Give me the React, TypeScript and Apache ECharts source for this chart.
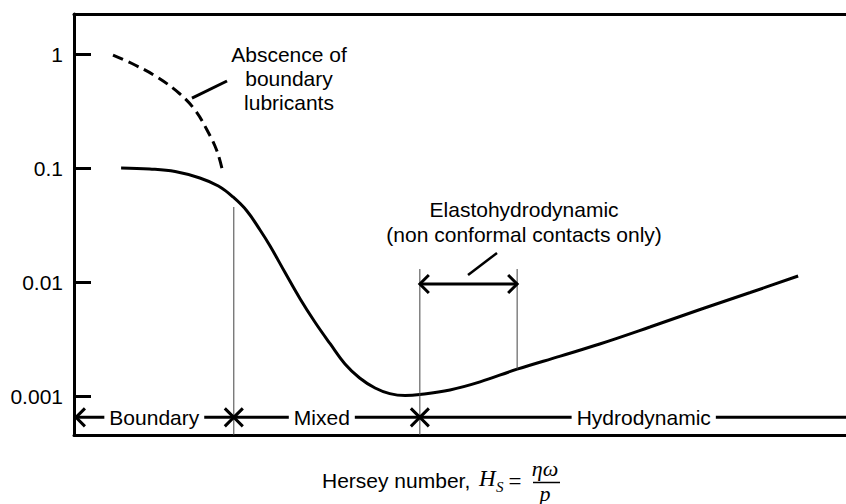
import React, { useEffect, useRef } from "react";
import * as echarts from "echarts";

// ---- axes ----
const yTickValues = [0.001, 0.01, 0.1, 1];
const yTickLabels = ["0.001", "0.01", "0.1", "1"];
const yMin = 0.000455;
const yMax = 2.244;
const xMin = 0;
const xMax = 100;

// ---- Stribeck curve (coefficient of friction vs Hersey number) ----
const frictionX = [6.1, 9.8, 13.1, 16.3, 18.7, 20.6, 22.4, 24.1, 25.4, 27.3, 29.3, 31.2, 33.2, 35.1, 37.0, 39.0, 40.9, 42.9, 44.8, 48.7, 52.6, 57.4, 63.0, 68.1, 74.6, 81.1, 87.6, 93.8];
const frictionY = [0.1, 0.098, 0.0932, 0.0817, 0.0695, 0.0557, 0.042, 0.0286, 0.0207, 0.01224, 0.0071, 0.00446, 0.00286, 0.00191, 0.00144, 0.001176, 0.00105, 0.00101, 0.00103, 0.00113, 0.00133, 0.00172, 0.00224, 0.00286, 0.00403, 0.00574, 0.00809, 0.01129];

// ---- absence of boundary lubricants (dashed) ----
const dryX = [5.05, 7.9, 10.75, 13.73, 15.67, 17.23, 18.52, 19.3];
const dryY = [0.98, 0.801, 0.628, 0.446, 0.323, 0.2154, 0.141, 0.0904];

// ---- regimes ----
const regimeLabels = ["Boundary", "Mixed", "Hydrodynamic"];
const regimeLabelX = [10.4, 32.1, 73.8];
const regimeBounds = [20.7, 44.8];
const bracketStartX = 0.25;
const bracketEndX = 100;
const bracketY = 0.00065;

// ---- guide lines ----
const guideX = [20.7, 44.8, 57.4];
const guideTop = [0.0455, 0.013, 0.013];
const guideBottom = [yMin, yMin, 0.00172];

// ---- EHD range ----
const ehdRange = [44.8, 57.4];
const ehdY = 0.0096;
const ehdLabel = "Elastohydrodynamic\n(non conformal contacts only)";
const ehdLabelPos = [58.3, 0.0339];
const ehdLeader = [[51.04, 0.01151], [54.79, 0.01797]];

const dryLabel = "Abscence of\nboundary\nlubricants";
const dryLabelPos = [27.85, 0.612];
const dryLeader = [[15.28, 0.411], [19.82, 0.58]];

const SANS = "'Liberation Sans', Arial, sans-serif";
const SERIF = "'Liberation Serif', 'Times New Roman', serif";

function txt(o: any) {
  return { ...o, textAlign: o.align, textVerticalAlign: o.verticalAlign };
}

export default function App() {
  const ref = useRef<HTMLDivElement>(null);
  useEffect(() => {
    const chart = echarts.init(ref.current!, null, { renderer: "svg" });

    const renderItem = (params: any, api: any) => {
      const P = (x: number, y: number) => api.coord([x, y]);
      const ch: any[] = [];
      const seg = (a: number[], b: number[], w: number, color = "#000") =>
        ch.push({
          type: "line",
          shape: { x1: a[0], y1: a[1], x2: b[0], y2: b[1] },
          style: { stroke: color, lineWidth: w },
        });
      const head = (tip: number[], dir: number) =>
        ch.push({
          type: "polyline",
          shape: {
            points: [
              [tip[0] - dir * 9, tip[1] - 9],
              [tip[0], tip[1]],
              [tip[0] - dir * 9, tip[1] + 9],
            ],
          },
          style: { stroke: "#000", fill: "none", lineWidth: 3, lineJoin: "miter" },
        });

      // guide lines
      guideX.forEach((gx, i) => seg(P(gx, guideTop[i]), P(gx, guideBottom[i]), 1, "#444"));

      // bottom regime bracket
      seg(P(bracketStartX, bracketY), P(bracketEndX, bracketY), 3);
      head(P(bracketStartX, bracketY), -1);
      regimeBounds.forEach((b) => {
        head(P(b, bracketY), 1);
        head(P(b, bracketY), -1);
      });
      regimeLabels.forEach((t, i) => {
        const p = P(regimeLabelX[i], bracketY);
        ch.push({
          type: "text",
          x: p[0],
          y: p[1],
          style: txt({
            text: t,
            align: "center",
            verticalAlign: "middle",
            fontSize: 21,
            fontFamily: SANS,
            fill: "#000",
            backgroundColor: "#fff",
            padding: [0, 5],
          }),
        });
      });

      // EHD double arrow
      seg(P(ehdRange[0], ehdY), P(ehdRange[1], ehdY), 3);
      head(P(ehdRange[0], ehdY), -1);
      head(P(ehdRange[1], ehdY), 1);
      seg(P(ehdLeader[0][0], ehdLeader[0][1]), P(ehdLeader[1][0], ehdLeader[1][1]), 2.5);
      const ep = P(ehdLabelPos[0], ehdLabelPos[1]);
      ch.push({
        type: "text",
        x: ep[0],
        y: ep[1],
        style: txt({
          text: ehdLabel,
          align: "center",
          verticalAlign: "middle",
          fontSize: 21,
          fontFamily: SANS,
          fill: "#000",
          lineHeight: 25,
        }),
      });

      // dry annotation
      seg(P(dryLeader[0][0], dryLeader[0][1]), P(dryLeader[1][0], dryLeader[1][1]), 3);
      const dp = P(dryLabelPos[0], dryLabelPos[1]);
      ch.push({
        type: "text",
        x: dp[0],
        y: dp[1],
        style: txt({
          text: dryLabel,
          align: "center",
          verticalAlign: "middle",
          fontSize: 21,
          fontFamily: SANS,
          fill: "#000",
          lineHeight: 24,
        }),
      });

      return { type: "group", children: ch };
    };

    const axisTitle = [
      { type: "text", x: 322, y: 480, style: txt({ text: "Hersey number,", align: "left", verticalAlign: "middle", fontSize: 21, fontFamily: SANS, fill: "#000" }) },
      { type: "text", x: 479, y: 478, style: txt({ text: "H", align: "left", verticalAlign: "middle", fontSize: 23, fontStyle: "italic", fontFamily: SERIF, fill: "#000" }) },
      { type: "text", x: 496, y: 487, style: txt({ text: "S", align: "left", verticalAlign: "middle", fontSize: 15, fontStyle: "italic", fontFamily: SERIF, fill: "#000" }) },
      { type: "text", x: 515, y: 481, style: txt({ text: "=", align: "center", verticalAlign: "middle", fontSize: 23, fontFamily: SERIF, fill: "#000" }) },
      { type: "text", x: 545, y: 468, style: txt({ text: "ηω", align: "center", verticalAlign: "middle", fontSize: 22, fontStyle: "italic", fontFamily: SERIF, fill: "#000" }) },
      { type: "line", shape: { x1: 533, y1: 482.5, x2: 560, y2: 482.5 }, style: { stroke: "#000", lineWidth: 1.5 } },
      { type: "text", x: 545, y: 493, style: txt({ text: "p", align: "center", verticalAlign: "middle", fontSize: 22, fontStyle: "italic", fontFamily: SERIF, fill: "#000" }) },
    ];

    const baseX = {
      type: "value",
      min: xMin,
      max: xMax,
      axisLine: { show: true, onZero: false, lineStyle: { color: "#000", width: 3 } },
      axisTick: { show: false },
      axisLabel: { show: false },
      splitLine: { show: false },
    };

    const option: any = {
      animation: false,
      backgroundColor: "#fff",
      grid: { left: 74, right: 0, top: 14, bottom: 69, containLabel: false },
      xAxis: [
        { ...baseX, position: "bottom" },
        { ...baseX, position: "top" },
      ],
      yAxis: {
        type: "log",
        logBase: 10,
        min: yMin,
        max: yMax,
        axisLine: { show: true, onZero: false, lineStyle: { color: "#000", width: 3 } },
        axisTick: { show: true, inside: true, length: 17, lineStyle: { color: "#000", width: 3 } },
        minorTick: { show: false },
        splitLine: { show: false },
        axisLabel: {
          margin: 11,
          fontSize: 21,
          fontFamily: SANS,
          color: "#000",
          showMinLabel: false,
          showMaxLabel: false,
          formatter: (v: number) => {
            const i = yTickValues.findIndex((t) => Math.abs(Math.log10(t) - Math.log10(v)) < 1e-6);
            return i >= 0 ? yTickLabels[i] : "";
          },
        },
      },
      series: [
        {
          type: "line",
          data: frictionX.map((x, i) => [x, frictionY[i]]),
          smooth: 0.4,
          showSymbol: false,
          symbol: "none",
          silent: true,
          lineStyle: { color: "#000", width: 3 },
          emphasis: { disabled: true },
        },
        {
          type: "line",
          data: dryX.map((x, i) => [x, dryY[i]]),
          smooth: 0.4,
          showSymbol: false,
          symbol: "none",
          silent: true,
          lineStyle: { color: "#000", width: 3, type: [11, 6] },
          emphasis: { disabled: true },
        },
        {
          type: "custom",
          data: [[0, 1]],
          silent: true,
          clip: false,
          z: 5,
          renderItem,
        },
      ],
      graphic: axisTitle,
    };

    chart.setOption(option);
    return () => chart.dispose();
  }, []);

  return (
    <div
      ref={ref}
      style={{ position: "fixed", left: 0, top: 0, width: 846, height: 504, background: "#fff" }}
    />
  );
}
